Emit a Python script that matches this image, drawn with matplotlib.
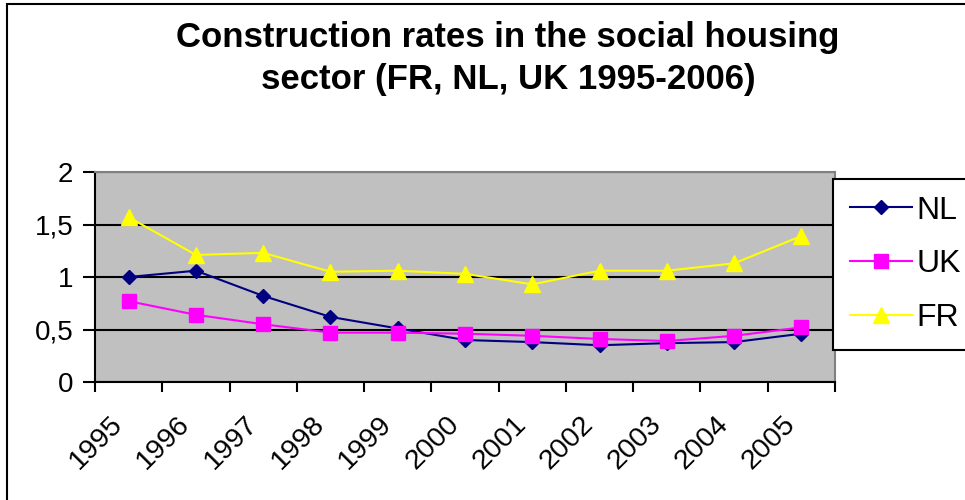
import numpy as np
import matplotlib
matplotlib.use("Agg")
import matplotlib.pyplot as plt
import matplotlib.transforms as mtransforms
from matplotlib.patches import Rectangle

# dados
anos = ['1995', '1996', '1997', '1998', '1999', '2000', '2001', '2002', '2003', '2004', '2005']
nl = [1.00, 1.06, 0.82, 0.62, 0.51, 0.40, 0.38, 0.35, 0.37, 0.38, 0.46]
uk = [0.77, 0.64, 0.55, 0.47, 0.47, 0.46, 0.44, 0.41, 0.39, 0.44, 0.52]
fr = [1.57, 1.21, 1.23, 1.05, 1.06, 1.03, 0.93, 1.06, 1.06, 1.13, 1.39]
yticks = [0, 0.5, 1, 1.5, 2]
ylabels = ['0', '0,5', '1', '1,5', '2']

plt.rcParams['font.family'] = ['Liberation Sans', 'DejaVu Sans']

W, H = 965, 500
fig = plt.figure(figsize=(W / 100, H / 100), dpi=100)

# moldura externa (cortada a direita e embaixo)
fig.patches.append(Rectangle((7 / W, -0.1), 1.2, 1 - 4 / H + 0.1, transform=fig.transFigure,
                             fill=False, edgecolor='black', linewidth=1.5))

ax = fig.add_axes([95 / W, (H - 382) / H, 740 / W, 210 / H])
ax.set_facecolor('#C0C0C0')

x = np.arange(len(anos)) + 0.5
ax.plot(x, nl, color='#000080', marker='D', markersize=7, linewidth=1.5, label='NL')
ax.plot(x, uk, color='#FF00FF', marker='s', markersize=10, linewidth=1.5, label='UK')
ax.plot(x, fr, color='#FFFF00', marker='^', markersize=11.5, linewidth=1.5, label='FR')

ax.set_xlim(0, len(anos))
ax.set_ylim(0, 2)
ax.set_yticks(yticks)
ax.set_yticklabels(ylabels, fontsize=20)
ax.yaxis.grid(True, color='black', linewidth=1.5)
ax.set_axisbelow(True)

# ticks nas divisoes, rotulos (texto girado) no centro das categorias
ax.set_xticks(np.arange(len(anos) + 1))
ax.set_xticklabels([])
ax.tick_params(axis='x', length=7, width=1.5, direction='out')
ax.tick_params(axis='y', length=8.5, width=1.5, direction='out', pad=7)
trans = mtransforms.blended_transform_factory(ax.transData, ax.transAxes)
trans = trans + mtransforms.ScaledTranslation(-19 / 100, -29 / 100, fig.dpi_scale_trans)
for xi, ano in zip(x, anos):
    ax.text(xi, 0, ano, transform=trans, fontsize=20.5, rotation=45, ha='right', va='top',
            rotation_mode='anchor')

for s in ['top', 'right']:
    ax.spines[s].set_color('#808080')
    ax.spines[s].set_linewidth(1.5)
for s in ['left', 'bottom']:
    ax.spines[s].set_color('black')
    ax.spines[s].set_linewidth(1.5)

fig.text(508 / W, 1 - 38 / H, 'Construction rates in the social housing', ha='center', va='center',
         fontsize=25, fontweight='bold')
fig.text(508 / W, 1 - 80 / H, 'sector (FR, NL, UK 1995-2006)', ha='center', va='center',
         fontsize=25, fontweight='bold')

leg = fig.legend(loc='upper left', bbox_to_anchor=(833 / W, 1 - 179 / H), fontsize=23,
                 frameon=True, fancybox=False, edgecolor='black', framealpha=1,
                 handlelength=1.95, handletextpad=0.15, borderpad=0.52, labelspacing=0.74,
                 borderaxespad=0)
leg.get_frame().set_linewidth(1.5)

fig.savefig('out.png', dpi=100)
